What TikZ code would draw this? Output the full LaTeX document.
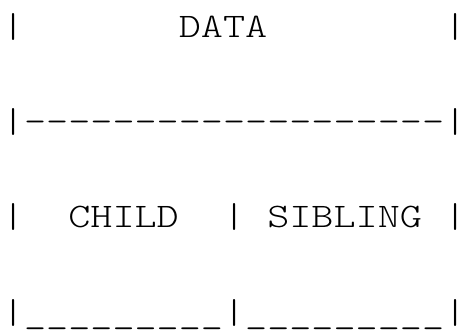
\documentclass[tikz,border=0pt]{standalone}
\usepackage{fontspec}
\setmonofont{Latin Modern Mono Light}[FakeStretch=1.224,WordSpace={1,0,0}]
\usepackage{tikz}

\begin{document}
\begin{tikzpicture}[x=1pt,y=1pt,every node/.style={inner sep=0pt,anchor=base west,font=\ttfamily\fontsize{34.4}{40}\selectfont}]
\useasboundingbox (0,0) rectangle (466,-331);

\node (Ldata)  at (1.8,-38)  {|~~~~~~~DATA~~~~~~~~|};
\node (Lrule)  at (1.8,-133) {|-------------------|};
\node (Lcells) at (1.8,-228) {|~~CHILD~~|~SIBLING~|};
\node (Lbase)  at (1.8,-323) {|\_\_\_\_\_\_\_\_\_|\_\_\_\_\_\_\_\_\_|};
\end{tikzpicture}
\end{document}
